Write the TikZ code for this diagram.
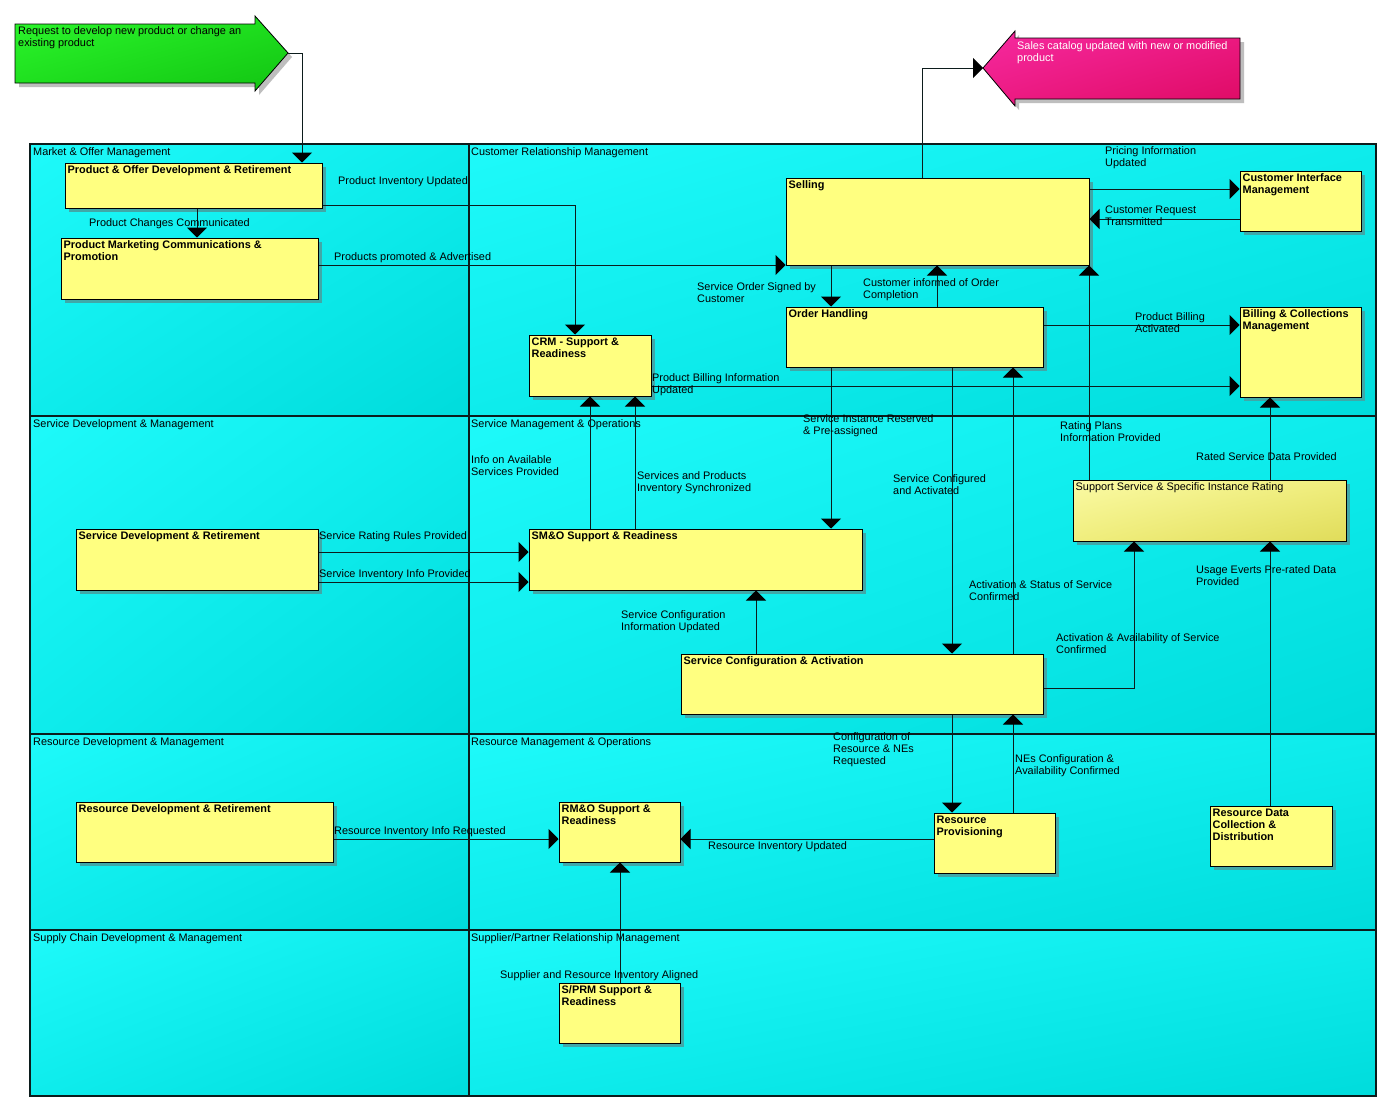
\documentclass[tikz,border=0pt]{standalone}
\usepackage{fontspec}
\setmainfont{Liberation Sans}
\usetikzlibrary{arrows.meta,shadows,shadings}

\definecolor{boxyellow}{RGB}{255,255,128}
\definecolor{boxshadow}{RGB}{64,168,168}
\definecolor{cyanlight}{RGB}{30,250,250}
\definecolor{cyanmid}{RGB}{14,236,236}
\definecolor{cyandark}{RGB}{0,220,220}
\definecolor{linecol}{RGB}{12,28,28}
\definecolor{greenlight}{RGB}{44,246,44}
\definecolor{greenmid}{RGB}{30,222,30}
\definecolor{greendark}{RGB}{18,196,18}
\definecolor{pinklight}{RGB}{246,42,160}
\definecolor{pinkmid}{RGB}{236,26,130}
\definecolor{pinkdark}{RGB}{222,10,100}
\definecolor{ratelight}{RGB}{250,250,165}
\definecolor{ratemid}{RGB}{240,238,125}
\definecolor{ratedark}{RGB}{224,220,90}
\definecolor{bigshadow}{RGB}{190,190,190}

% process box: name, left, top, right, bottom, title
\newcommand\procbox[6]{%
  \node[pbox, minimum width={#4-#2}, minimum height={#5-#3}] (#1) at ({(#2+#4)/2},{(#3+#5)/2}) {};
  \node[ttl] (#1-t) at ([xshift=3pt,yshift=-3pt]#1.north west) {#6};
}

\begin{document}
\begin{tikzpicture}[x=1pt,y=-1pt,
  lbl/.style={inner sep=0pt, anchor=north west, align=left, font=\fontsize{10.9}{12}\selectfont},
  ttl/.style={lbl, font=\bfseries\fontsize{10.9}{12}\selectfont},
  cellhead/.style={lbl},
  pbox/.style={draw=black, line width=1pt, fill=boxyellow, inner sep=0pt,
    drop shadow={shadow xshift=4pt, shadow yshift=-4pt, fill=boxshadow, opacity=1}},
  flow/.style={draw=linecol, line width=1pt, -{Triangle[width=20pt,length=10pt,color=black,fill=black]}},
  grid/.style={draw=linecol, line width=1.2pt}]

\useasboundingbox (0,0) rectangle (1398,1111);
\fill[white] (0,0) rectangle (1398,1111);

% ---------- trigger and result arrows ----------
\fill[bigshadow] (19,28) -- (259,28) -- (259,20) -- (292,57) -- (259,95) -- (259,87) -- (19,87) -- cycle;
\shade[upper left=greenlight, upper right=greenmid, lower left=greenmid, lower right=greendark, draw=black, line width=0.8pt]
  (15,24) -- (255,24) -- (255,16) -- (288,53) -- (255,91) -- (255,83) -- (15,83) -- cycle;
\node[lbl] (req) at (18,26) {Request to develop new product or change an\\existing product};
\coordinate (req-tip) at (288,53);

\fill[bigshadow] (1244,42) -- (1019,42) -- (1019,35) -- (987,72) -- (1019,110) -- (1019,103) -- (1244,103) -- cycle;
\shade[upper left=pinklight, upper right=pinkmid, lower left=pinkmid, lower right=pinkdark, draw=black, line width=0.8pt]
  (1240,38) -- (1015,38) -- (1015,31) -- (983,68) -- (1015,106) -- (1015,99) -- (1240,99) -- cycle;
\node[lbl, text=white] (cat) at (1017,41) {Sales catalog updated with new or modified\\product};
\coordinate (cat-tip) at (983,68);

% ---------- swimlane cells ----------
\foreach \ya/\yb in {144/416, 416/734, 734/930, 930/1096}{
  \shade[upper left=cyanlight, upper right=cyanmid, lower left=cyanmid, lower right=cyandark] (30,\ya) rectangle (469,\yb);
  \shade[upper left=cyanlight, upper right=cyanmid, lower left=cyanmid, lower right=cyandark] (469,\ya) rectangle (1376,\yb);
}
\draw[grid] (30,144) rectangle (1376,1096);
\draw[grid] (469,144) -- (469,1096);
\draw[grid] (30,416) -- (1376,416);
\draw[grid] (30,734) -- (1376,734);
\draw[grid] (30,930) -- (1376,930);

\node[cellhead] (h-mom) at (33,147) {Market \& Offer Management};
\node[cellhead] (h-crm) at (471,147) {Customer Relationship Management};
\node[cellhead] (h-sdm) at (33,419) {Service Development \& Management};
\node[cellhead] (h-smo) at (471,419) {Service Management \& Operations};
\node[cellhead] (h-rdm) at (33,737) {Resource Development \& Management};
\node[cellhead] (h-rmo) at (471,737) {Resource Management \& Operations};
\node[cellhead] (h-scd) at (33,933) {Supply Chain Development \& Management};
\node[cellhead] (h-spr) at (471,933) {Supplier/Partner Relationship Management};

% ---------- process boxes ----------
\procbox{pod}{65}{163}{322}{208}{Product \& Offer Development \& Retirement}
\procbox{pmc}{61}{238}{318}{299}{Product Marketing Communications \&\\Promotion}
\procbox{crm}{529}{335}{651}{396}{CRM - Support \&\\Readiness}
\procbox{sell}{786}{178}{1089}{265}{Selling}
\procbox{oh}{786}{307}{1043}{367}{Order Handling}
\procbox{cim}{1240}{171}{1361}{231}{Customer Interface\\Management}
\procbox{bcm}{1240}{307}{1361}{397}{Billing \& Collections\\Management}
\procbox{smo}{529}{529}{862}{590}{SM\&O Support \& Readiness}
\procbox{sca}{681}{654}{1043}{714}{Service Configuration \& Activation}
\procbox{sdr}{76}{529}{318}{590}{Service Development \& Retirement}
\procbox{rdr}{76}{802}{333}{862}{Resource Development \& Retirement}
\procbox{rmo}{559}{802}{680}{862}{RM\&O Support \&\\Readiness}
\procbox{sprm}{559}{983}{680}{1043}{S/PRM Support \&\\Readiness}
\procbox{rp}{934}{813}{1055}{873}{Resource\\Provisioning}
\procbox{rdcd}{1210}{806}{1332}{866}{Resource Data\\Collection \&\\Distribution}

\node[pbox, shade, upper left=ratelight, upper right=ratemid, lower left=ratemid, lower right=ratedark,
  minimum width=273, minimum height=61] (ssr) at (1209.5,510.5) {};
\node[lbl] (ssr-t) at ([xshift=3pt,yshift=-3pt]ssr.north west) {Support Service \& Specific Instance Rating};

% ---------- flows ----------
\draw[flow] (req-tip) -| (302,0 |- pod.north);
\draw[flow] (197,0 |- pod.south) -- (197,0 |- pmc.north);
\draw[flow] (pod.east |- 0,205) -| (575,0 |- crm.north);
\draw[flow] (pmc.east |- 0,265) -- (sell.west |- 0,265);
\draw[flow] (831,0 |- sell.south) -- (831,0 |- oh.north);
\draw[flow] (937,0 |- oh.north) -- (937,0 |- sell.south);
\draw[flow] (sell.east |- 0,189) -- (cim.west |- 0,189);
\draw[flow] (cim.west |- 0,219) -- (sell.east |- 0,219);
\draw[flow] (oh.east |- 0,325) -- (bcm.west |- 0,325);
\draw[flow] (crm.east |- 0,386) -- (bcm.west |- 0,386);
\draw[flow] (590,0 |- smo.north) -- (590,0 |- crm.south);
\draw[flow] (635,0 |- smo.north) -- (635,0 |- crm.south);
\draw[flow] (831,0 |- oh.south) -- (831,0 |- smo.north);
\draw[flow] (952,0 |- oh.south) -- (952,0 |- sca.north);
\draw[flow] (1013,0 |- sca.north) -- (1013,0 |- oh.south);
\draw[flow] (1089,0 |- ssr.north) -- (1089,0 |- sell.south);
\draw[flow] (1270,0 |- ssr.north) -- (1270,0 |- bcm.south);
\draw[flow] (sdr.east |- 0,552) -- (smo.west |- 0,552);
\draw[flow] (sdr.east |- 0,582) -- (smo.west |- 0,582);
\draw[flow] (756,0 |- sca.north) -- (756,0 |- smo.south);
\draw[flow] (sca.east |- 0,688) -| (1134,0 |- ssr.south);
\draw[flow] (1270,0 |- rdcd.north) -- (1270,0 |- ssr.south);
\draw[flow] (952,0 |- sca.south) -- (952,0 |- rp.north);
\draw[flow] (1013,0 |- rp.north) -- (1013,0 |- sca.south);
\draw[flow] (rp.west |- 0,839) -- (rmo.east |- 0,839);
\draw[flow] (rdr.east |- 0,839) -- (rmo.west |- 0,839);
\draw[flow] (620,0 |- sprm.north) -- (620,0 |- rmo.south);
\draw[flow] (922,0 |- sell.north) |- (cat-tip);

% ---------- flow labels ----------
\node[lbl] (f1) at (338,176) {Product Inventory Updated};
\node[lbl] (f2) at (89,218) {Product Changes Communicated};
\node[lbl] (f3) at (334,252) {Products promoted \& Advertised};
\node[lbl] (f4) at (697,282) {Service Order Signed by\\Customer};
\node[lbl] (f5) at (863,278) {Customer informed of Order\\Completion};
\node[lbl] (f6) at (1105,146) {Pricing Information\\Updated};
\node[lbl] (f7) at (1105,206) {Customer Request\\Transmitted};
\node[lbl] (f8) at (1135,312) {Product Billing\\Activated};
\node[lbl] (f9) at (652,373) {Product Billing Information\\Updated};
\node[lbl] (f10) at (471,455) {Info on Available\\Services Provided};
\node[lbl] (f11) at (637,471) {Services and Products\\Inventory Synchronized};
\node[lbl] (f12) at (803,414) {Service Instance Reserved\\\& Pre-assigned};
\node[lbl] (f13) at (893,474) {Service Configured\\and Activated};
\node[lbl] (f14) at (969,580) {Activation \& Status of Service\\Confirmed};
\node[lbl] (f15) at (1060,421) {Rating Plans\\Information Provided};
\node[lbl] (f16) at (1196,452) {Rated Service Data Provided};
\node[lbl] (f17) at (319,531) {Service Rating Rules Provided};
\node[lbl] (f18) at (319,569) {Service Inventory Info Provided};
\node[lbl] (f19) at (621,610) {Service Configuration\\Information Updated};
\node[lbl] (f20) at (1056,633) {Activation \& Availability of Service\\Confirmed};
\node[lbl] (f21) at (1196,565) {Usage Everts Pre-rated Data\\Provided};
\node[lbl] (f22) at (833,732) {Configuration of\\Resource \& NEs\\Requested};
\node[lbl] (f23) at (1015,754) {NEs Configuration \&\\Availability Confirmed};
\node[lbl] (f24) at (708,841) {Resource Inventory Updated};
\node[lbl] (f25) at (334,826) {Resource Inventory Info Requested};
\node[lbl] (f26) at (500,970) {Supplier and Resource Inventory Aligned};

\end{tikzpicture}
\end{document}
